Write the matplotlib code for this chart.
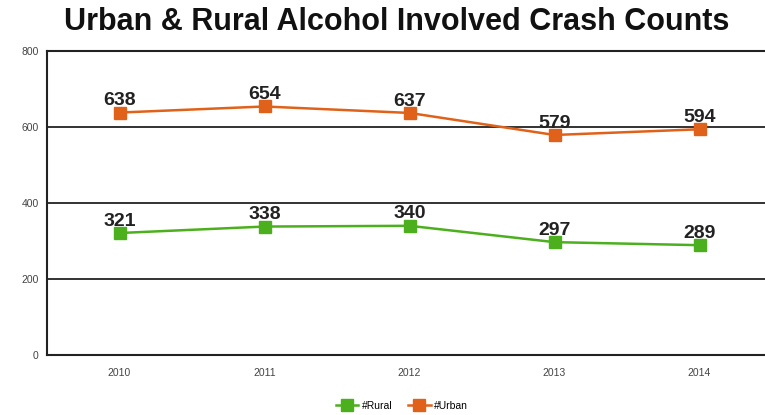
import numpy as np
import matplotlib.pyplot as plt

plt.rcParams['font.family'] = ['Liberation Sans', 'DejaVu Sans']

years = ['2010', '2011', '2012', '2013', '2014']
rural = [321, 338, 340, 297, 289]
urban = [638, 654, 637, 579, 594]
yticks = [0, 200, 400, 600, 800]

green = '#4cb01e'
orange = '#e0621a'

fig = plt.figure(figsize=(7.65, 4.15), dpi=100)
ax = fig.add_axes([47 / 765, 1 - 355 / 415, 725 / 765, 304 / 415])

x = np.arange(len(years))
ax.plot(x, rural, color=green, lw=1.8, marker='s', ms=9, label='#Rural')
ax.plot(x, urban, color=orange, lw=1.8, marker='s', ms=9, label='#Urban')

for xi, v in zip(x, rural):
    ax.text(xi, v + 9, str(v), ha='center', va='bottom', fontsize=14,
            fontweight='bold', color='#222222')
for xi, v in zip(x, urban):
    ax.text(xi, v + 9, str(v), ha='center', va='bottom', fontsize=14,
            fontweight='bold', color='#222222')

ax.set_xlim(-0.5, len(years) - 0.5)
ax.set_ylim(0, 800)
ax.set_xticks(x)
ax.set_xticklabels(years)
ax.set_yticks(yticks)
ax.tick_params(axis='both', length=0, labelsize=7.5, labelcolor='#444444')
ax.tick_params(axis='x', pad=9)
ax.tick_params(axis='y', pad=6)
ax.grid(axis='y', color='#222222', lw=1.3)
ax.set_axisbelow(True)
ax.spines['right'].set_visible(False)
for s in ['left', 'bottom', 'top']:
    ax.spines[s].set_color('#222222')
    ax.spines[s].set_linewidth(1.5)

fig.text(0.518, 0.948, 'Urban & Rural Alcohol Involved Crash Counts', ha='center',
         va='center', fontsize=22, fontweight='bold', color='#111111')

fig.legend(loc='center', bbox_to_anchor=(0.525, 0.022), ncol=2, frameon=False,
           fontsize=7.5, handlelength=2.2, columnspacing=1.5, handletextpad=0.3,
           markerscale=0.9)

fig.savefig('out.png', dpi=100)
